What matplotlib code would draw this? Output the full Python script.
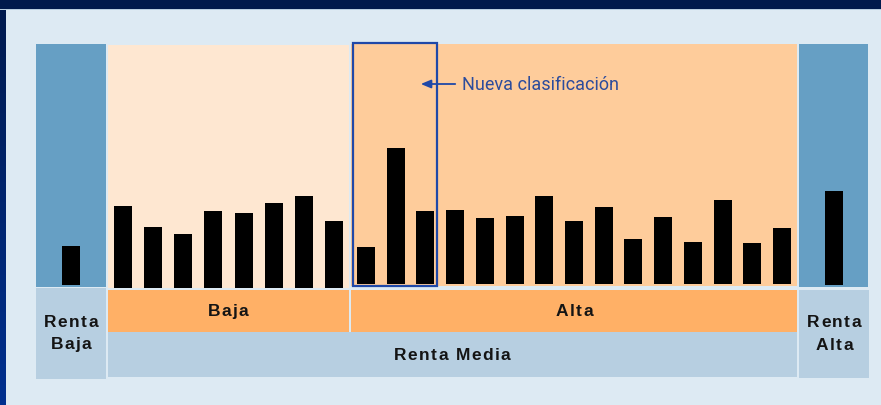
import numpy as np
import matplotlib.pyplot as plt
from matplotlib.patches import Rectangle
from matplotlib.colors import LinearSegmentedColormap

W, H = 881, 405

# bar heights (arbitrary units)
renta_baja_vals = [39]
baja_vals = [82, 61, 54, 77, 75, 85, 92, 67]
alta_vals = [37, 136, 73, 74, 66, 68, 88, 63, 77, 45, 67, 42, 84, 41, 56]
renta_alta_vals = [94]

group_labels = ['Baja', 'Alta']
income_labels = ['Renta\nBaja', 'Renta Media', 'Renta\nAlta']
note = 'Nueva clasificación'

BG = '#ddeaf3'
NAVY = '#001a4d'
DARK_BLUE = '#669fc4'
PALE_BLUE = '#b7cfe1'
PEACH_LIGHT = '#fee7d1'
PEACH = '#fecc9b'
ORANGE = '#ffb066'
LINE_BLUE = '#1f48a8'
TXT = '#141414'

fig = plt.figure(figsize=(W / 100, H / 100), dpi=100)
fig.patch.set_facecolor(BG)

bg = fig.add_axes([0, 0, 1, 1])
bg.axis('off')


def px_axes(x0, y0, x1, y1):
    return fig.add_axes([x0 / W, 1 - y1 / H, (x1 - x0) / W, (y1 - y0) / H])


def box(x0, y0, x1, y1, color):
    bg.add_patch(Rectangle((x0, y0), x1 - x0, y1 - y0, color=color, lw=0))


# frame: navy band at top, gradient band on the left
box(0, 0, W, 9, NAVY)
box(0, 9, W, 10, '#b8cde0')
grad = np.linspace(0, 1, 100).reshape(-1, 1)
cm = LinearSegmentedColormap.from_list('navy', [NAVY, '#00308f'])
bg.imshow(grad, cmap=cm, extent=(0, 6, H, 0), aspect='auto')
bg.set_xlim(0, W)
bg.set_ylim(H, 0)

# top panels
box(36, 44, 106, 287, DARK_BLUE)
box(108, 45, 349, 288, PEACH_LIGHT)
box(351, 44, 797, 286, PEACH)
box(799, 44, 868, 287, DARK_BLUE)

# bottom label boxes
box(36, 288, 106, 379, PALE_BLUE)
box(108, 290, 349, 332, ORANGE)
box(351, 290, 797, 332, ORANGE)
box(108, 332, 797, 377, PALE_BLUE)
box(799, 290, 869, 378, PALE_BLUE)

# bars, one axes per panel
panels = [
    (renta_baja_vals, 36, 106, 285),
    (baja_vals, 108, 349, 288),
    (alta_vals, 351, 797, 284),
    (renta_alta_vals, 799, 868, 285),
]
for vals, x0, x1, base in panels:
    ax = px_axes(x0, 44, x1, base)
    n = len(vals)
    step = (x1 - x0) / n
    ax.bar(np.arange(n), vals, width=18 / step, color='black')
    ax.set_xlim(-0.5, n - 0.5)
    ax.set_ylim(0, base - 44)
    ax.axis('off')
    ax.patch.set_alpha(0)

# overlay for annotation and labels
top = fig.add_axes([0, 0, 1, 1])
top.set_xlim(0, W)
top.set_ylim(H, 0)
top.axis('off')
top.patch.set_alpha(0)
top.add_patch(Rectangle((353, 43), 84, 243, fill=False, ec=LINE_BLUE, lw=1.6))
top.annotate('', xy=(418, 84), xytext=(458, 84),
             arrowprops=dict(arrowstyle='-|>,head_length=0.6,head_width=0.25',
                             color=LINE_BLUE, lw=1.3))
top.text(462, 85, note, ha='left', va='center', fontsize=13,
         color='#2c4c9c', family=['Liberation Sans Narrow', 'Roboto', 'DejaVu Sans'])


def tracked(cx, baseline, s, track=1.5, size=12.5):
    # bold label drawn char by char to get the wide letter spacing
    r = fig.canvas.get_renderer()
    kw = dict(fontsize=size, fontweight='bold', family='Liberation Sans', color=TXT)
    ws = []
    for ch in s:
        if ch == ' ':
            ws.append(0.278 * size * 100 / 72)
            continue
        t = top.text(0, 0, ch, **kw)
        ws.append(t.get_window_extent(r).width)
        t.remove()
    x = cx - (sum(ws) + track * (len(s) - 1)) / 2
    for ch, w in zip(s, ws):
        if ch != ' ':
            top.text(x, baseline, ch, ha='left', va='baseline', **kw)
        x += w + track


lines = income_labels[0].split('\n')
tracked(71, 327, lines[0])
tracked(71, 349, lines[1])
tracked(228, 316, group_labels[0])
tracked(574, 316, group_labels[1])
tracked(452, 360, income_labels[1])
lines = income_labels[2].split('\n')
tracked(834, 327, lines[0])
tracked(834, 350, lines[1])

fig.savefig('out.png', dpi=100, facecolor=BG)
